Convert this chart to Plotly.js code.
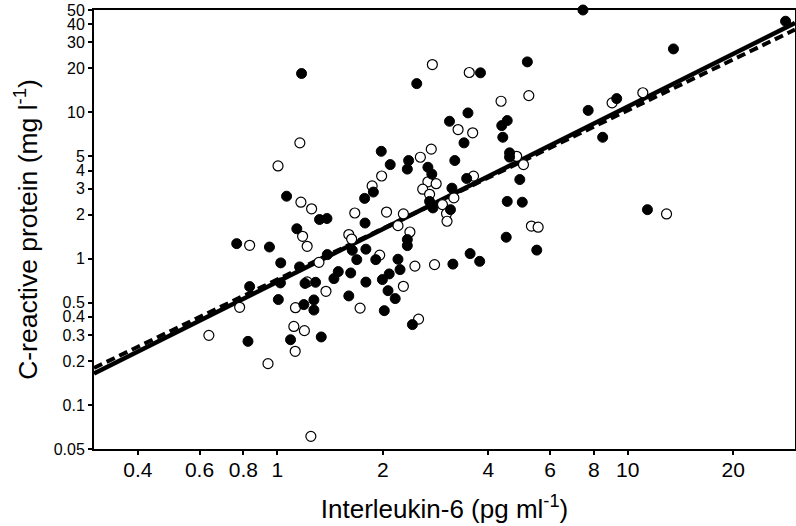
<!DOCTYPE html>
<html>
<head>
<meta charset="utf-8">
<script src="https://cdn.plot.ly/plotly-3.0.1.min.js"></script>
<style>
  body { margin: 0; background: #fff; }
  #chart { width: 796px; height: 526px; }
</style>
</head>
<body>
<div id="chart"></div>
<script>
// filled circles (IL-6, CRP)
const filledX = [7.45, 28.2, 13.5, 1.173, 5.17, 3.8, 2.5, 3.5, 3.1, 3.41, 4.37, 4.53, 4.4, 1.98, 2.1, 2.37, 2.35, 2.69, 2.76, 3.21, 4.6, 4.6, 4.92, 3.47, 3.15, 1.063, 1.32, 1.386, 1.137, 0.766, 0.95, 1.023, 1.88, 1.775, 1.78, 1.637, 1.686, 1.79, 1.91, 1.389, 1.493, 1.451, 1.62, 1.79, 1.6, 1.2, 1.286, 1.021, 1.007, 0.834, 1.272, 1.191, 1.272, 0.825, 1.091, 1.335, 2.02, 2.43, 2.17, 2.07, 1.995, 2.086, 2.24, 2.21, 2.35, 2.35, 3.17, 3.55, 3.78, 4.5, 5.5, 4.53, 5.0, 2.72, 2.78, 3.12, 7.71, 9.3, 8.48, 11.38, 1.158];
const filledY = [50, 41.9, 27.1, 18.4, 22.1, 18.6, 15.7, 9.9, 8.68, 6.18, 8.11, 8.78, 6.75, 5.41, 4.39, 4.68, 4.09, 4.21, 3.78, 4.68, 5.28, 4.94, 3.47, 3.53, 3.03, 2.67, 1.85, 1.88, 1.6, 1.266, 1.2, 0.935, 2.85, 2.58, 1.75, 1.14, 0.984, 1.16, 0.984, 1.065, 0.815, 0.73, 0.798, 0.691, 0.556, 0.677, 0.689, 0.682, 0.525, 0.644, 0.522, 0.485, 0.445, 0.272, 0.279, 0.2915, 0.441, 0.354, 0.533, 0.604, 0.719, 0.786, 0.841, 0.99, 1.35, 1.227, 0.917, 1.082, 0.958, 1.4, 1.143, 2.46, 2.43, 2.46, 2.22, 2.16, 10.3, 12.4, 6.75, 2.16, 0.878];

// open circles
const openX = [2.77, 3.53, 4.35, 5.22, 3.28, 3.61, 2.75, 2.56, 1.985, 3.63, 4.82, 5.04, 2.69, 2.84, 2.6, 2.72, 2.96, 3.19, 3.04, 3.05, 2.05, 2.29, 2.21, 2.39, 5.31, 5.55, 2.47, 2.81, 1.96, 2.29, 2.53, 9.02, 11.04, 12.9, 1.16, 1.005, 1.168, 1.253, 1.181, 1.217, 0.834, 1.865, 1.664, 1.6, 1.63, 1.315, 1.217, 1.377, 1.127, 0.781, 1.723, 0.638, 1.115, 1.195, 1.125, 0.941, 1.247];
const openY = [21.2, 18.7, 11.9, 13.0, 7.62, 7.24, 5.6, 4.93, 3.67, 3.66, 5.0, 4.39, 3.35, 3.25, 2.98, 2.75, 2.34, 2.6, 2.03, 1.8, 2.08, 2.02, 1.68, 1.52, 1.67, 1.64, 0.889, 0.91, 1.057, 0.647, 0.386, 11.6, 13.6, 2.02, 6.18, 4.3, 2.43, 2.19, 1.42, 1.214, 1.233, 3.14, 2.05, 1.46, 1.36, 0.943, 0.693, 0.598, 0.462, 0.465, 0.459, 0.299, 0.344, 0.322, 0.2325, 0.1915, 0.061];

// fitted lines
const fitX = [0.3, 30];
const solidFitY = [0.164, 40.8];
const dashedFitY = [0.179, 36.7];

const xTicks = [0.4, 0.6, 0.8, 1, 2, 4, 6, 8, 10, 20];
const xTickText = ['0.4', '0.6', '0.8', '1', '2', '4', '6', '8', '10', '20'];
const yTicks = [0.05, 0.1, 0.2, 0.3, 0.4, 0.5, 1, 2, 3, 4, 5, 10, 20, 30, 40, 50];
const yTickText = ['0.05', '0.1', '0.2', '0.3', '0.4', '0.5', '1', '2', '3', '4', '5', '10', '20', '30', '40', '50'];

const fontFamily = 'Liberation Sans, Arial, Helvetica, sans-serif';

Plotly.newPlot(
  'chart',
  [
    {
      x: fitX,
      y: dashedFitY,
      mode: 'lines',
      line: { color: 'black', width: 4, dash: '9px,5px' },
      hoverinfo: 'skip',
    },
    {
      x: fitX,
      y: solidFitY,
      mode: 'lines',
      line: { color: 'black', width: 4.5 },
      hoverinfo: 'skip',
    },
    {
      x: openX,
      y: openY,
      mode: 'markers',
      cliponaxis: false,
      marker: {
        symbol: 'circle',
        size: 10,
        color: 'white',
        line: { color: 'black', width: 1.2 },
      },
    },
    {
      x: filledX,
      y: filledY,
      mode: 'markers',
      cliponaxis: false,
      marker: {
        symbol: 'circle',
        size: 10,
        color: 'black',
        line: { color: 'black', width: 1 },
      },
    },
  ],
  {
    width: 796,
    height: 526,
    showlegend: false,
    paper_bgcolor: 'white',
    plot_bgcolor: 'white',
    margin: { l: 94, r: 1, t: 10, b: 77 },
    font: { family: fontFamily, color: 'black' },
    xaxis: {
      type: 'log',
      range: [Math.log10(0.3), Math.log10(30)],
      tickvals: xTicks,
      ticktext: xTickText,
      ticks: 'outside',
      ticklen: 4,
      tickwidth: 2,
      tickcolor: 'black',
      showline: true,
      linewidth: 2,
      linecolor: 'black',
      mirror: true,
      showgrid: false,
      zeroline: false,
      ticklabelstandoff: -3,
      tickfont: { size: 21, family: fontFamily },
      title: {
        text: 'Interleukin-6 (pg ml<sup>-1</sup>)',
        font: { size: 26, family: fontFamily },
        standoff: 20,
      },
    },
    yaxis: {
      type: 'log',
      range: [Math.log10(0.05), Math.log10(50)],
      tickvals: yTicks,
      ticktext: yTickText,
      ticks: 'outside',
      ticklen: 4,
      tickwidth: 2,
      tickcolor: 'black',
      showline: true,
      linewidth: 2,
      linecolor: 'black',
      mirror: true,
      showgrid: false,
      zeroline: false,
      tickfont: { size: 16, family: fontFamily },
      title: {
        text: 'C-reactive protein (mg l<sup>-1</sup>)',
        font: { size: 26.5, family: fontFamily },
        standoff: 8,
      },
    },
  },
  { displayModeBar: false, staticPlot: true }
);
</script>
</body>
</html>
